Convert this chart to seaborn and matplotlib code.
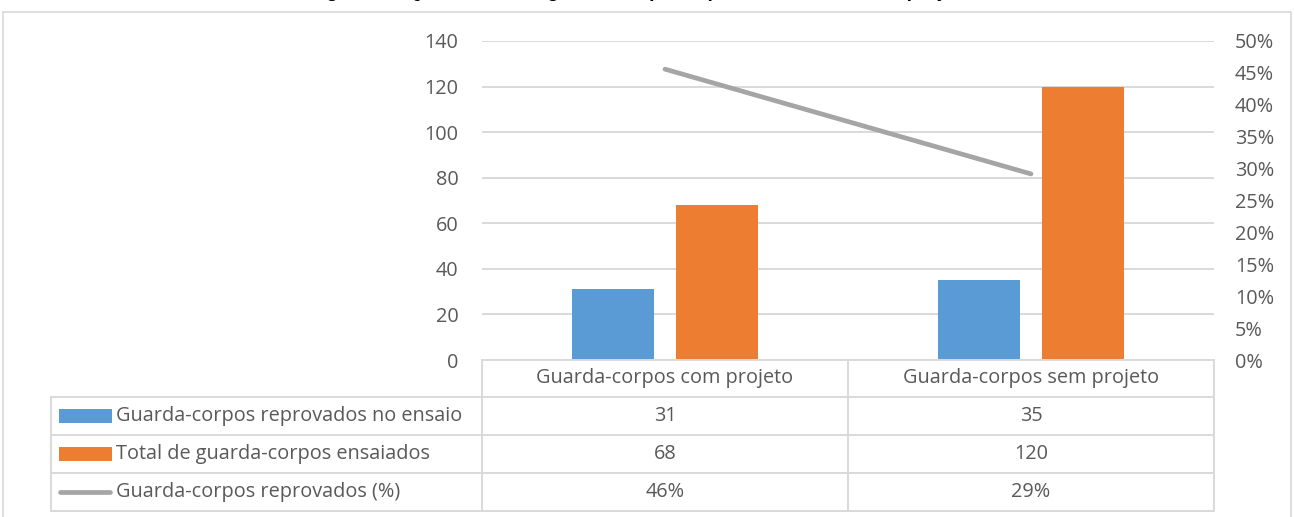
import numpy as np
import pandas as pd
import matplotlib
matplotlib.use("Agg")
import matplotlib.pyplot as plt
from matplotlib.patches import Rectangle
from matplotlib.lines import Line2D
from matplotlib.ticker import PercentFormatter
import seaborn as sns

# ---- data ----
categories = ["Guarda-corpos com projeto", "Guarda-corpos sem projeto"]
reprovados = [31, 35]
ensaiados = [68, 120]
series_names = ["Guarda-corpos reprovados no ensaio",
                "Total de guarda-corpos ensaiados",
                "Guarda-corpos reprovados (%)"]
left_ticks = [0, 20, 40, 60, 80, 100, 120, 140]
right_ticks = [0, 0.05, 0.10, 0.15, 0.20, 0.25, 0.30, 0.35, 0.40, 0.45, 0.50]
title = "Figura 4 – Quantidade de guarda-corpos reprovados com e sem projeto"

pct = [r / t for r, t in zip(reprovados, ensaiados)]

BLUE = "#5B9BD5"
ORANGE = "#ED7D31"
GRAY = "#A5A5A5"
TXT = "#595959"
GRID = "#D9D9D9"
FS = 14.3

sns.set_theme(style="white")
plt.rcParams["font.family"] = ["Open Sans", "DejaVu Sans"]

W, H = 1294, 517
fig = plt.figure(figsize=(W / 100, H / 100), dpi=100)


def fx(x):
    return x / W


def fy(y):
    return (H - y) / H


# plot area
ax = fig.add_axes([fx(482), fy(360), fx(1214) - fx(482), fy(41) - fy(360)])

df = pd.DataFrame({
    "categoria": categories * 2,
    "serie": [series_names[0]] * len(categories) + [series_names[1]] * len(categories),
    "valor": reprovados + ensaiados,
})
sns.barplot(data=df, x="categoria", y="valor", hue="serie",
            palette=[BLUE, ORANGE], width=0.57, gap=0.21, saturation=1,
            legend=False, ax=ax, zorder=3, edgecolor="none", linewidth=0)

ax.set_xlim(-0.5, len(categories) - 0.5)
ax.set_ylim(0, 140)
ax.set_yticks(left_ticks)
ax.set_xticks([])
ax.set_xlabel("")
ax.set_ylabel("")
ax.grid(axis="y", color=GRID, linewidth=1.4, zorder=0)
ax.tick_params(axis="y", length=0, pad=17, labelsize=FS, labelcolor=TXT)
for s in ax.spines.values():
    s.set_visible(False)

ax2 = ax.twinx()
sns.lineplot(x=np.arange(len(categories)), y=pct, ax=ax2, color=GRAY,
             linewidth=3.4, solid_capstyle="round", zorder=4)
ax2.set_ylim(0, 0.5)
ax2.set_yticks(right_ticks)
ax2.yaxis.set_major_formatter(PercentFormatter(1.0, decimals=0))
ax2.tick_params(axis="y", length=0, pad=15, labelsize=FS, labelcolor=TXT)
ax2.set_ylabel("")
for s in ax2.spines.values():
    s.set_visible(False)

# ---- data table under the plot ----
fig.canvas.draw()
col_centers = [fig.transFigure.inverted().transform(
    ax.transData.transform((i, 0)))[0] for i in range(len(categories))]
col_edges = [fx(482), fx(848), fx(1214)]
left_edge = fx(51)
row_y = [fy(360), fy(397), fy(435), fy(473), fy(511)]

line_kw = dict(color=GRID, linewidth=1.4, transform=fig.transFigure)
# header row
fig.add_artist(Line2D([col_edges[0], col_edges[-1]], [row_y[0], row_y[0]], **line_kw))
for i in range(1, len(row_y)):
    fig.add_artist(Line2D([left_edge, col_edges[-1]], [row_y[i], row_y[i]], **line_kw))
for xe in col_edges:
    fig.add_artist(Line2D([xe, xe], [row_y[0], row_y[-1]], **line_kw))
fig.add_artist(Line2D([left_edge, left_edge], [row_y[1], row_y[-1]], **line_kw))

txt_kw = dict(fontsize=FS, color=TXT, ha="center", va="center")
for xc, cat in zip(col_centers, categories):
    fig.text(xc, (row_y[0] + row_y[1]) / 2, cat, **txt_kw)

rows = [
    [str(v) for v in reprovados],
    [str(v) for v in ensaiados],
    [f"{p:.0%}" for p in pct],
]
for r, vals in enumerate(rows):
    yc = (row_y[r + 1] + row_y[r + 2]) / 2
    for xc, v in zip(col_centers, vals):
        fig.text(xc, yc, v, **txt_kw)
    fig.text(fx(116), yc, series_names[r], fontsize=FS, color=TXT,
             ha="left", va="center")

# legend keys inside the table
for r, color in enumerate([BLUE, ORANGE]):
    yc = (row_y[r + 1] + row_y[r + 2]) / 2
    fig.add_artist(Rectangle((fx(59), yc - 7 / H), fx(112) - fx(59), 14 / H,
                             facecolor=color, edgecolor="none",
                             transform=fig.transFigure))
yc = (row_y[3] + row_y[4]) / 2
fig.add_artist(Line2D([fx(60), fx(110)], [yc, yc], color=GRAY, linewidth=3.4,
                      solid_capstyle="round", transform=fig.transFigure))

# chart frame
fig.add_artist(Rectangle((fx(3), fy(520)), fx(1291) - fx(3), fy(12) - fy(520),
                         facecolor="none", edgecolor=GRID, linewidth=1.2,
                         transform=fig.transFigure, clip_on=False))

# caption sitting at the very top edge of the image
fig.text(fx(641), fy(-3), title, ha="center", va="baseline", fontsize=14,
         fontweight="bold", color="black", family=["Liberation Sans", "DejaVu Sans"])

fig.savefig("out.png", dpi=100, facecolor="white")
